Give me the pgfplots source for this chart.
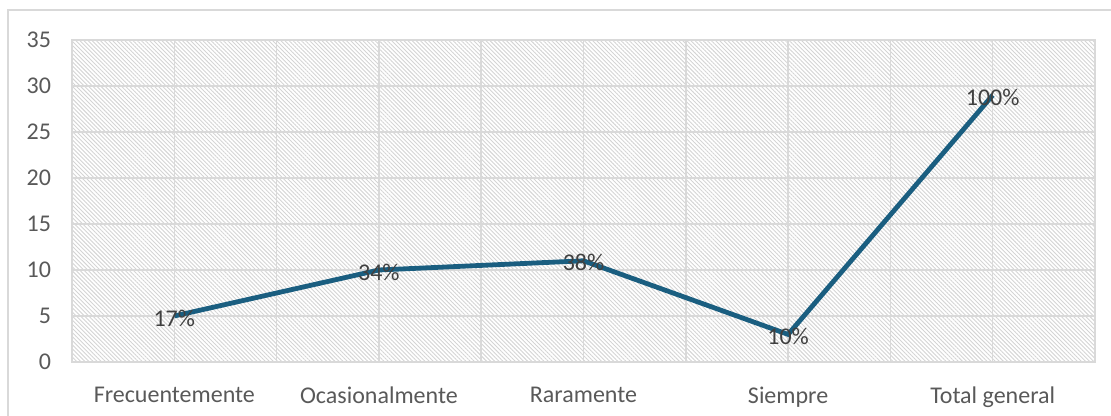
\documentclass[border=0pt]{standalone}
\usepackage{pgfplots}
\pgfplotsset{compat=1.18}
\usepackage{fontspec}
\setmainfont{Carlito}
\usetikzlibrary{patterns.meta}
\definecolor{gridgray}{HTML}{D9D9D9}
\definecolor{hatchgray}{HTML}{D4D4D4}
\definecolor{linecol}{HTML}{1A5E80}
\definecolor{ticktext}{HTML}{595959}
\definecolor{labeltext}{HTML}{404040}
\begin{document}
\begin{tikzpicture}
\useasboundingbox (0,0) rectangle (555.5pt,208pt);
\draw[color=gridgray, line width=0.75pt] (4pt,-10pt) -- (4pt,203pt) -- (570pt,203pt);
\begin{axis}[
  at={(36pt,27pt)}, anchor=south west,
  scale only axis, width=511.5pt, height=161pt,
  xmin=-0.5, xmax=4.5, ymin=0, ymax=35,
  xtick={0,1,2,3,4},
  xticklabels={Frecuentemente,Ocasionalmente,Raramente,Siempre,Total general},
  minor xtick={-0.5,0.5,1.5,2.5,3.5,4.5},
  ytick={0,5,...,35},
  xmajorgrids, xminorgrids, ymajorgrids,
  grid style={color=gridgray, line width=0.75pt},
  minor grid style={color=gridgray, line width=0.75pt},
  major tick length=0pt, minor tick length=0pt,
  axis line style={color=gridgray, line width=0.75pt},
  axis background/.style={pattern={Lines[angle=-45,distance=1.45pt,line width=0.45pt]}, pattern color=hatchgray},
  tick label style={font=\fontsize{12}{14}\selectfont, color=ticktext},
  /pgf/number format/assume math mode=true,
  yticklabel style={xshift=-7pt},
  xticklabel style={yshift=-9pt},
  nodes near coords,
  point meta=explicit symbolic,
  every node near coord/.append style={anchor=center, yshift=-1pt, font=\fontsize{12}{14}\selectfont, color=labeltext},
  clip=false,
]
\addplot[color=linecol, line width=2.4pt, mark=none] coordinates {
  (0,5) [17\%]
  (1,10) [34\%]
  (2,11) [38\%]
  (3,3) [10\%]
  (4,29) [100\%]
};
\end{axis}
\end{tikzpicture}
\end{document}
